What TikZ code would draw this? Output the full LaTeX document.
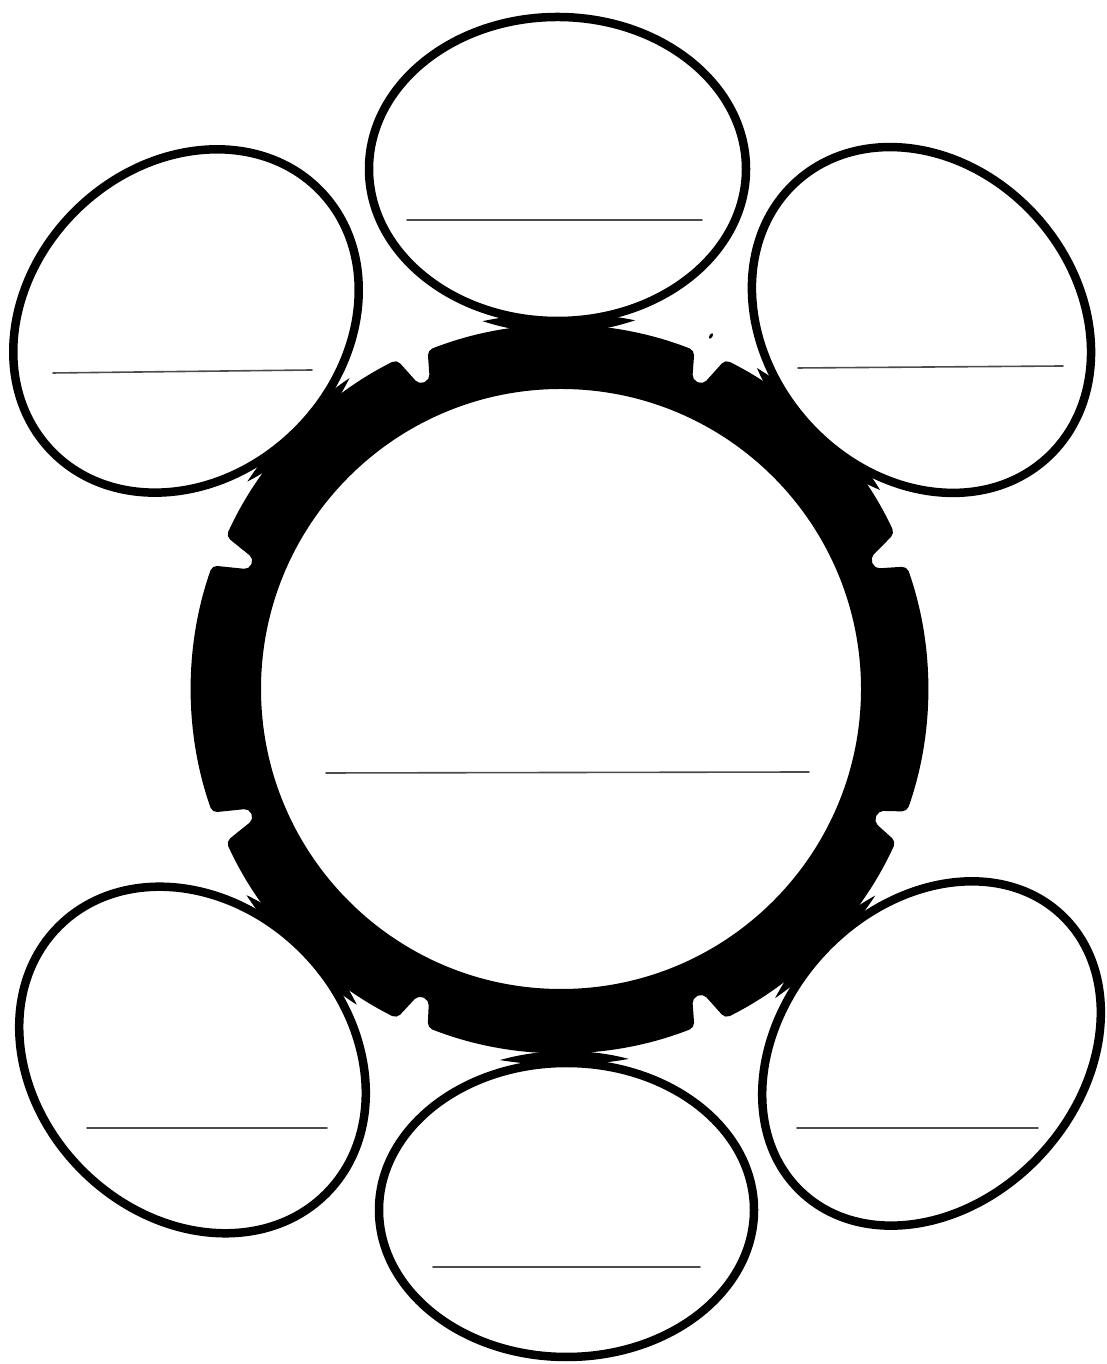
\documentclass[tikz,border=0pt]{standalone}
\begin{document}
\begin{tikzpicture}[x=1pt,y=1pt,
  bubble/.style={draw=black, line width=8.5pt, fill=white},
  blank/.style={line width=1.6pt, draw=black!70, line cap=round},
  ringfill/.style={fill=black, even odd rule}]
\useasboundingbox (0,0) rectangle (1106,1364);
\fill[white] (0,0) rectangle (1106,1364);
% centres
\coordinate (c) at (561,675);
\coordinate (eT) at (557.5,1195);
\coordinate (eTL) at (186,1043);
\coordinate (eTR) at (921.5,1044);
\coordinate (eBL) at (192.5,304);
\coordinate (eBR) at (931.5,310.5);
\coordinate (eB) at (566.5,154);
% notched ring
\begin{scope}[shift={(c)}]
\fill[ringfill, rounded corners=5pt]
  (25:368pt) arc[start angle=25, end angle=63.5, radius=368pt]
  -- (65:336pt) -- (67:336pt) -- (68.5:364pt) arc[start angle=68.5, end angle=111.5, radius=364pt]
  -- (113:336pt) -- (115:336pt) -- (116.5:368pt) arc[start angle=116.5, end angle=155.5, radius=368pt]
  -- (157:334pt) -- (159:334pt) -- (160.5:370pt) arc[start angle=160.5, end angle=199.5, radius=370pt]
  -- (201:334pt) -- (203:334pt) -- (204.5:368pt) arc[start angle=204.5, end angle=243.5, radius=368pt]
  -- (245:338pt) -- (247:338pt) -- (248.5:364pt) arc[start angle=248.5, end angle=291.5, radius=364pt]
  -- (293:336pt) -- (295:336pt) -- (296.5:368pt) arc[start angle=296.5, end angle=335.5, radius=368pt]
  -- (337:340pt) -- (339:340pt) -- (340.5:367pt) arc[start angle=340.5, end angle=379.5, radius=367pt]
  -- (21:336pt) -- (23:336pt) -- cycle
  (0,0) circle (300pt);
\end{scope}
% black webbing where the ellipses meet the ring
\foreach \e/\r/\a/\b in {eT/0/200.5/164, eTL/44/199/168, eTR/-48/198.5/166.5,
                         eBL/-45/201/168, eBR/47/202/161, eB/0/199.5/159} {
  \begin{scope}
    \clip[rotate around={\r:(\e)}] (\e) ellipse [x radius=\a pt, y radius=\b pt];
    \fill[ringfill] (c) circle (376pt) (c) circle (300pt);
  \end{scope}
}
% ellipses
\draw[bubble] (eT) ellipse [x radius=188.5pt, y radius=152pt];
\draw[bubble, rotate around={44:(eTL)}] (eTL) ellipse [x radius=187pt, y radius=156pt];
\draw[bubble, rotate around={-48:(eTR)}] (eTR) ellipse [x radius=186.5pt, y radius=154.5pt];
\draw[bubble, rotate around={-45:(eBL)}] (eBL) ellipse [x radius=189pt, y radius=156pt];
\draw[bubble, rotate around={47:(eBR)}] (eBR) ellipse [x radius=190pt, y radius=149pt];
\draw[bubble] (eB) ellipse [x radius=187.5pt, y radius=147pt];
% small speck
\fill[black, rotate around={60:(711,1028)}] (711,1028) ellipse [x radius=3pt, y radius=1.5pt];
% writing lines
\draw[blank] (407,1144) -- (702,1144);
\draw[blank] (53,991) -- (312,994);
\draw[blank] (798,996) -- (1063,998);
\draw[blank] (326,591) -- (809,592);
\draw[blank] (87,236) -- (327,236);
\draw[blank] (797,236) -- (1038,236);
\draw[blank] (433,97) -- (700,97);
\end{tikzpicture}
\end{document}
